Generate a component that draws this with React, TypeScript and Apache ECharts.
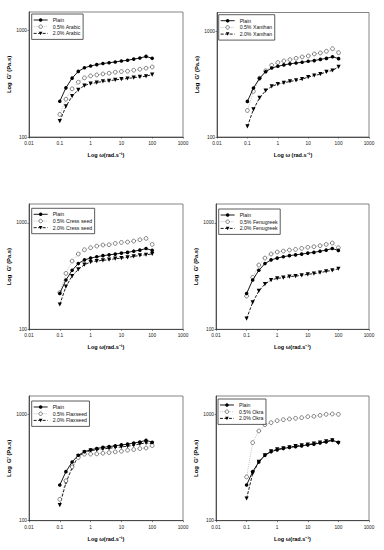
import React, { useEffect, useRef } from "react";
import * as echarts from "echarts";

const freq = [0.1, 0.158, 0.251, 0.398, 0.631, 1, 1.585, 2.512, 3.981, 6.31, 10, 15.85, 25.12, 39.81, 63.1, 100];
const xTickLabels = ["0.01", "0.1", "1", "10", "100", "1000"];
const yTickValues = [100, 1000];

const plain = [217, 290, 358, 414, 448, 466, 480, 491, 500, 508, 519, 527, 541, 553, 573, 550];

const arabic05 = [163, 227, 284, 328, 360, 376, 384, 392, 398, 407, 413, 416, 425, 434, 444, 456];
const arabic20 = [141, 194, 242, 278, 305, 318, 325, 333, 338, 345, 350, 355, 362, 368, 373, 387];

const xanthan05 = [178, 270, 360, 422, 476, 505, 523, 538, 554, 571, 583, 609, 622, 645, 683, 626];
const xanthan20 = [126, 182, 234, 274, 301, 316, 325, 335, 342, 352, 368, 381, 392, 413, 425, 460];

const cress05 = [221, 335, 437, 509, 558, 583, 604, 618, 622, 640, 654, 659, 673, 693, 713, 626];
const cress20 = [171, 251, 316, 365, 404, 428, 437, 444, 450, 460, 466, 473, 483, 494, 501, 509];

const fenugreek05 = [205, 307, 401, 466, 509, 531, 542, 554, 562, 575, 588, 596, 609, 626, 645, 583];
const fenugreek20 = [126, 179, 229, 266, 290, 301, 305, 312, 316, 321, 328, 333, 340, 350, 357, 370];

const flax05 = [159, 238, 322, 394, 424, 425, 427, 433, 439, 446, 452, 462, 469, 479, 485, 511];
const flax20 = [140, 228, 315, 406, 439, 459, 465, 476, 482, 490, 497, 504, 515, 530, 542, 530];

const okra05 = [259, 545, 702, 805, 841, 878, 897, 911, 924, 937, 958, 965, 986, 1007, 1015, 1007];
const okra20 = [162, 279, 359, 414, 452, 472, 482, 493, 504, 515, 522, 534, 545, 561, 574, 538];

const gums = ["Arabic", "Xanthan", "Cress seed", "Fenugreek", "Flaxseed", "Okra"];
const lowSeries = [arabic05, xanthan05, cress05, fenugreek05, flax05, okra05];
const highSeries = [arabic20, xanthan20, cress20, fenugreek20, flax20, okra20];

const grids = [
  { left: 29, top: 12, width: 154, height: 125 },
  { left: 217, top: 12.5, width: 152, height: 124.5 },
  { left: 29, top: 204, width: 154, height: 125.3 },
  { left: 216, top: 204, width: 153, height: 125.3 },
  { left: 29, top: 396, width: 154, height: 124.7 },
  { left: 216, top: 396, width: 153, height: 124.7 },
];
const legendPos = [
  { left: 31.7, top: 14 },
  { left: 218.7, top: 14.7 },
  { left: 31.7, top: 208.3 },
  { left: 218.7, top: 209 },
  { left: 31.7, top: 401 },
  { left: 218, top: 399 },
];

const FONT = "Liberation Sans, Arial, sans-serif";

export default function App() {
  const ref = useRef<HTMLDivElement>(null);
  useEffect(() => {
    if (!ref.current) return;
    const chart = echarts.init(ref.current, undefined, { renderer: "svg" });
    const grid: any[] = [];
    const xAxis: any[] = [];
    const yAxis: any[] = [];
    const series: any[] = [];
    const legend: any[] = [];
    gums.forEach((g, i) => {
      grid.push({ ...grids[i], show: true, borderColor: "#666", borderWidth: 0.8, backgroundColor: "transparent" });
      xAxis.push({
        type: "log",
        logBase: 10,
        gridIndex: i,
        min: 0.01,
        max: 1000,
        name: i === 1 ? "Log ω (rad.s⁻¹)" : "Log ω(rad.s⁻¹)",
        nameLocation: "middle",
        nameGap: 15,
        nameTextStyle: { fontSize: 5.5, fontFamily: FONT, color: "#000", fontWeight: "bold" },
        axisLine: { show: true, lineStyle: { color: "#333", width: 0.8 } },
        axisTick: { show: true, inside: false, length: 1.5, lineStyle: { color: "#333", width: 0.6 } },
        minorTick: { show: false },
        splitLine: { show: false },
        axisLabel: {
          fontSize: 4.8,
          fontFamily: FONT,
          color: "#222",
          margin: 4,
          formatter: (v: number) => xTickLabels[Math.round(Math.log10(v)) + 2],
        },
      });
      yAxis.push({
        type: "log",
        logBase: 10,
        gridIndex: i,
        min: 100,
        max: 1500,
        name: "Log  G' (Pa.s)",
        nameLocation: "middle",
        nameGap: 17,
        nameRotate: 90,
        nameTextStyle: { fontSize: 5.8, fontFamily: FONT, color: "#000", fontWeight: "bold" },
        axisLine: { show: true, lineStyle: { color: "#333", width: 0.8 } },
        axisTick: { show: true, inside: false, length: 1.5, customValues: yTickValues, lineStyle: { color: "#333", width: 0.6 } },
        minorTick: { show: false },
        splitLine: { show: false },
        axisLabel: {
          fontSize: 4.8,
          fontFamily: FONT,
          color: "#222",
          margin: 2,
          customValues: yTickValues,
          formatter: (v: number) => String(Math.round(v)),
        },
      });
      const names = ["Plain", "0.5% " + g, "2.0% " + g];
      const datas = [plain, lowSeries[i], highSeries[i]];
      names.forEach((n, k) => {
        const base: any = {
          type: "line",
          name: n,
          xAxisIndex: i,
          yAxisIndex: i,
          data: freq.map((x, j) => [x, datas[k][j]]),
          symbol: "circle",
          symbolSize: 3.6,
          z: 3 - k,
        };
        if (k === 0) {
          base.lineStyle = { color: "#000", width: 0.9, type: "solid" };
          base.itemStyle = { color: "#000", borderWidth: 0 };
        } else if (k === 1) {
          base.symbolSize = 3.8;
          base.lineStyle = { color: "#aaa", width: 0.7, type: [1, 1] };
          base.itemStyle = { color: "#fff", borderColor: "#333", borderWidth: 0.6 };
        } else {
          base.symbol = "triangle";
          base.symbolRotate = 180;
          base.symbolSize = 4.2;
          base.lineStyle = { color: "#000", width: 0.9, type: [3, 1.5] };
          base.itemStyle = { color: "#000", borderWidth: 0 };
        }
        series.push(base);
      });
      legend.push({
        ...legendPos[i],
        orient: "vertical",
        data: names.map((n, k) => ({
          name: n,
          itemStyle: k === 1 ? { color: "#fff", borderColor: "#333", borderWidth: 0.6 } : { borderWidth: 0 },
          lineStyle: { width: k === 1 ? 0.7 : 0.9 },
        })),
        itemWidth: 14,
        itemHeight: 4.4,
        itemGap: 0.7,
        padding: [3, 2.5, 3, 1.5],
        borderColor: "#333",
        borderWidth: 0.8,
        backgroundColor: "#fff",
        textStyle: { fontSize: 5.2, fontFamily: FONT, color: "#111", lineHeight: 6 },
        selectedMode: false,
      });
    });
    chart.setOption({
      animation: false,
      backgroundColor: "#fff",
      grid,
      xAxis,
      yAxis,
      series,
      legend,
    });
    return () => chart.dispose();
  }, []);
  return <div ref={ref} style={{ position: "absolute", left: 0, top: 0, width: 384, height: 550 }} />;
}
